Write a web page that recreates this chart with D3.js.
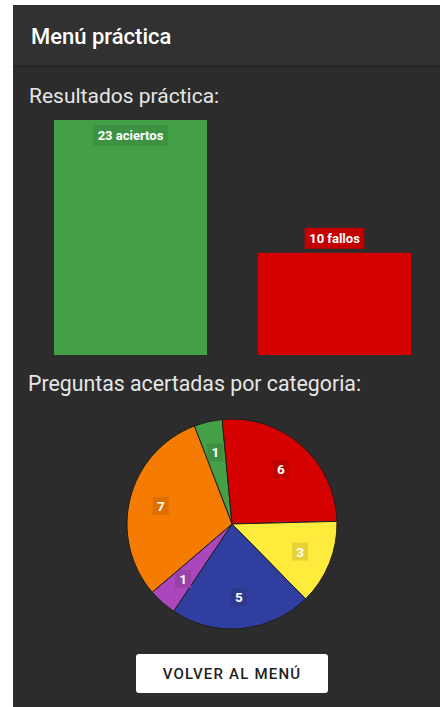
<!DOCTYPE html>
<html>
<head>
<meta charset="utf-8">
<script src="https://cdn.jsdelivr.net/npm/d3@7"></script>
<style>
  html, body { margin: 0; padding: 0; background: #ffffff; }
  svg { display: block; font-family: Roboto, "Noto Sans", sans-serif; }
</style>
</head>
<body>
<script>
// bar chart data
var barNames = ["aciertos", "fallos"];
var barValues = [23, 10];
var barColors = ["#43a047", "#d50000"];

// pie chart data
var pieValues = [1, 6, 3, 5, 1, 7];
var pieColors = ["#43a047", "#d50000", "#ffeb3b", "#303f9f", "#ab47bc", "#f57c00"];

var W = 440, H = 707;
var svg = d3.select("body").append("svg")
    .attr("width", W)
    .attr("height", H);

// screen background (white edge left/top like the screenshot)
svg.append("rect").attr("x", 13).attr("y", 5).attr("width", W - 13).attr("height", H - 5)
    .attr("fill", "#2c2c2c");
// app bar
svg.append("rect").attr("x", 13).attr("y", 5).attr("width", W - 13).attr("height", 60)
    .attr("fill", "#313131");
svg.append("rect").attr("x", 13).attr("y", 65).attr("width", W - 13).attr("height", 3)
    .attr("fill", "#262626");
svg.append("text").attr("x", 31).attr("y", 44)
    .text("Menú práctica")
    .style("fill", "#ffffff")
    .style("font-size", "22px")
    .style("font-weight", 500);

// titles
svg.append("text").attr("x", 29).attr("y", 103)
    .text("Resultados práctica:")
    .style("fill", "#e6e6e6")
    .style("font-size", "21px");
svg.append("text").attr("x", 28).attr("y", 391)
    .text("Preguntas acertadas por categoria:")
    .style("fill", "#e6e6e6")
    .style("font-size", "21.3px");

// ---- bar chart ----
var x = d3.scaleBand()
    .domain(barNames)
    .range([54, 462 - 51])
    .paddingInner(0.25)
    .paddingOuter(0);
var y = d3.scaleLinear()
    .domain([0, d3.max(barValues)])
    .range([355, 120]);

var bars = svg.append("g").selectAll("g")
    .data(barNames)
    .enter()
    .append("g");

bars.append("rect")
    .attr("x", function (d) { return x(d); })
    .attr("y", function (d, i) { return y(barValues[i]); })
    .attr("width", x.bandwidth())
    .attr("height", function (d, i) { return y(0) - y(barValues[i]); })
    .attr("fill", function (d, i) { return barColors[i]; });

var labH = 21;
bars.each(function (d, i) {
    var g = d3.select(this);
    var top = y(barValues[i]);
    var ly = top - 4 - labH;
    if (ly < y.range()[1]) ly = top + 5; // no room above -> inside bar
    var cx = x(d) + x.bandwidth() / 2;
    var t = g.append("text")
        .attr("x", cx)
        .attr("y", ly + 15)
        .attr("text-anchor", "middle")
        .text(barValues[i] + " " + d)
        .style("fill", "#ffffff")
        .style("font-size", "13px")
        .style("font-weight", 700);
    var w = t.node().getComputedTextLength() + 9;
    g.insert("rect", "text")
        .attr("x", cx - w / 2)
        .attr("y", ly)
        .attr("width", w)
        .attr("height", labH)
        .attr("fill", d3.color(barColors[i]).darker(0.25));
});

// ---- pie chart ----
var cx = 232, cy = 524, r = 105;
var pie = d3.pie().sort(null).startAngle(-21 * Math.PI / 180).endAngle((360 - 21) * Math.PI / 180);
var arc = d3.arc().innerRadius(0).outerRadius(r);
var labelArc = d3.arc().innerRadius(r * 0.7).outerRadius(r * 0.7);

var pg = svg.append("g").attr("transform", "translate(" + cx + "," + cy + ")");
var slices = pg.selectAll("g")
    .data(pie(pieValues))
    .enter()
    .append("g");

slices.append("path")
    .attr("d", arc)
    .attr("fill", function (d, i) { return pieColors[i]; })
    .style("stroke", "#1e1e1e")
    .style("stroke-width", 1);

slices.each(function (d, i) {
    var c = labelArc.centroid(d);
    var g = d3.select(this);
    g.append("rect")
        .attr("x", c[0] - 8)
        .attr("y", c[1] - 9)
        .attr("width", 16)
        .attr("height", 18)
        .attr("fill", d3.color(pieColors[i]).darker(0.3));
    g.append("text")
        .attr("x", c[0])
        .attr("y", c[1] + 5)
        .attr("text-anchor", "middle")
        .text(d.data)
        .style("fill", "#ffffff")
        .style("font-size", "13.5px")
        .style("font-weight", 700);
});

// ---- button ----
svg.append("rect")
    .attr("x", 136).attr("y", 654)
    .attr("width", 192).attr("height", 39)
    .attr("rx", 3)
    .attr("fill", "#ffffff");
svg.append("text")
    .attr("x", 232).attr("y", 679)
    .attr("text-anchor", "middle")
    .text("VOLVER AL MENÚ")
    .style("fill", "#222222")
    .style("font-size", "15px")
    .style("font-weight", 500)
    .style("letter-spacing", "1.2px");
</script>
</body>
</html>
